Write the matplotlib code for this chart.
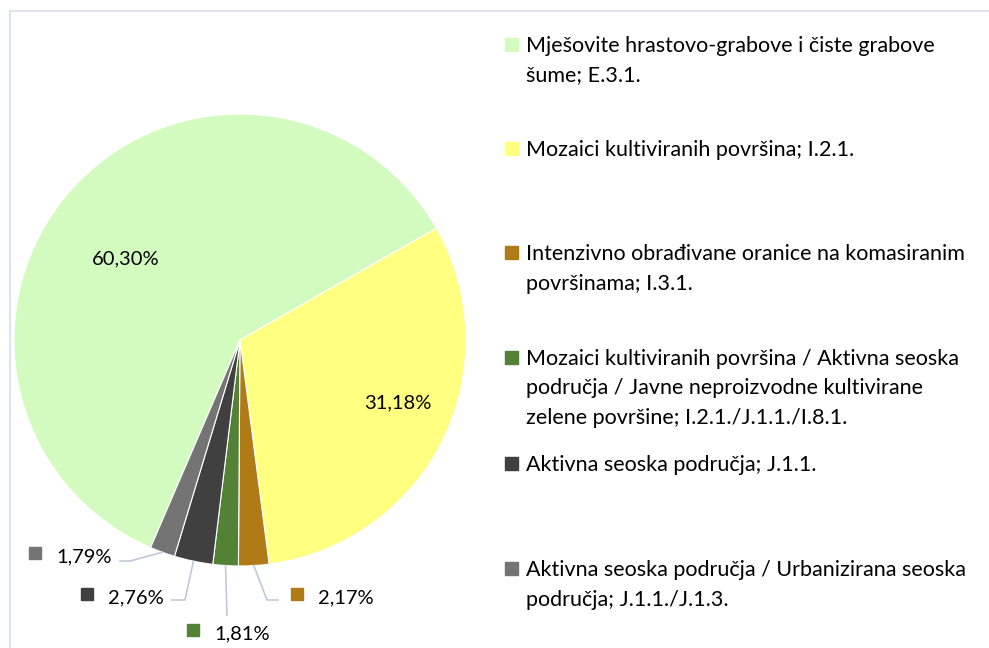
import matplotlib
matplotlib.use("Agg")
import matplotlib.pyplot as plt
from matplotlib.lines import Line2D
import numpy as np

# data
categories = [
    "Mješovite hrastovo-grabove i čiste grabove\nšume; E.3.1.",
    "Mozaici kultiviranih površina; I.2.1.",
    "Intenzivno obrađivane oranice na komasiranim\npovršinama; I.3.1.",
    "Mozaici kultiviranih površina / Aktivna seoska\npodručja / Javne neproizvodne kultivirane\nzelene površine; I.2.1./J.1.1./I.8.1.",
    "Aktivna seoska područja; J.1.1.",
    "Aktivna seoska područja / Urbanizirana seoska\npodručja; J.1.1./J.1.3.",
]
shares = [60.30, 31.18, 2.17, 1.81, 2.76, 1.79]
colors = ["#D3FBC0", "#FFFF80", "#B07A16", "#538135", "#404040", "#747474"]

plt.rcParams["font.family"] = ["Lato", "DejaVu Sans"]
W, H = 989, 648
fig = plt.figure(figsize=(W / 100, H / 100), dpi=100)

# pie placement (pixels)
cx, cy, r = 240, 340, 226
ax = fig.add_axes([(cx - r) / W, (H - cy - r) / H, 2 * r / W, 2 * r / H])
wedges, _ = ax.pie(shares, colors=colors, startangle=246.7, counterclock=False,
                   radius=1, wedgeprops=dict(linewidth=0.8, edgecolor="white"))
ax.set_xlim(-1, 1)
ax.set_ylim(-1, 1)
ax.set_aspect("equal")
ax.axis("off")


def px(x, y):
    return (x - cx) / r, (cy - y) / r


def fmt(v):
    return f"{v:.2f}%".replace(".", ",")


fs = 14.5
# inner labels
ax.text(*px(126, 257), fmt(shares[0]), fontsize=fs, ha="center", va="center_baseline")
ax.text(*px(398, 401), fmt(shares[1]), fontsize=fs, ha="center", va="center_baseline")

# outer labels: square, bend and end of leader line (pixels)
outer = {
    5: dict(sq=(35, 553), bend=(130, 561), end=(120, 561)),
    4: dict(sq=(87, 594), bend=(185, 600), end=(172, 600)),
    3: dict(sq=(193, 630), bend=(227, 615), end=(227, 615)),
    2: dict(sq=(297, 594), bend=(267, 600), end=(278, 600)),
}
lc = "#BFC9D9"
for i, o in outer.items():
    w = wedges[i]
    mid = np.deg2rad((w.theta1 + w.theta2) / 2)
    start = (np.cos(mid), np.sin(mid))
    bx, by = px(*o["bend"])
    ex, ey = px(*o["end"])
    ax.plot([start[0], bx, ex], [start[1], by, ey], color=lc, lw=1.2, clip_on=False)
    sx, sy = px(*o["sq"])
    ax.plot(sx, sy, marker="s", ms=9, color=colors[i], clip_on=False)
    ax.text(sx + 21 / r, sy - 2 / r, fmt(shares[i]), fontsize=fs, ha="left",
            va="center_baseline")

# legend at right
leg_y = [44, 148, 252, 357, 463, 568]
step = 29.5
for i, (lab, yy) in enumerate(zip(categories, leg_y)):
    fig.patches.append(plt.Rectangle((505 / W, 1 - (yy + 7) / H), 13 / W, 13 / H,
                                     transform=fig.transFigure, color=colors[i]))
    for k, line in enumerate(lab.split("\n")):
        fig.text(526 / W, 1 - (yy + k * step) / H, line, fontsize=15.5,
                 ha="left", va="center_baseline")

# chart frame
fig.add_artist(Line2D([10 / W, 10 / W], [0, 1 - 11 / H], color="#D9DEE8", lw=1.2))
fig.add_artist(Line2D([10 / W, 1], [1 - 11 / H, 1 - 11 / H], color="#D9DEE8", lw=1.2))

fig.savefig("out.png", dpi=100)
